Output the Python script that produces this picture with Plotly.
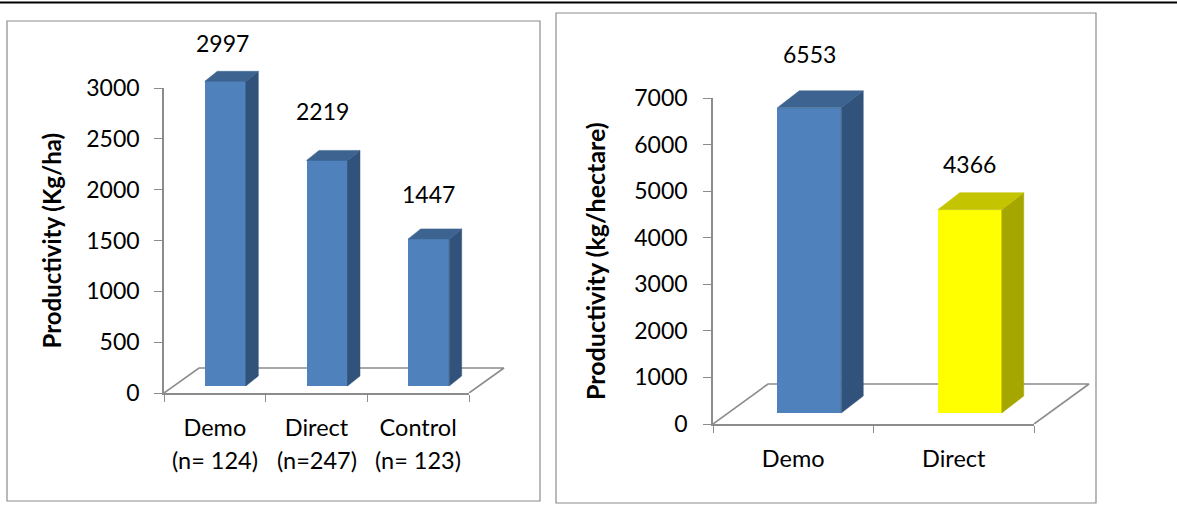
import plotly.graph_objects as go

W, H = 1177, 507
FONT = "Lato"
GREY = "#8C8C8C"

# ---- data ----
left_categories = ["Demo", "Direct", "Control"]
left_sub_labels = ["(n= 124)", "(n=247)", "(n= 123)"]
left_values = [2997, 2219, 1447]
left_y_ticks = [0, 500, 1000, 1500, 2000, 2500, 3000]
left_title = "Productivity (Kg/ha)"

right_categories = ["Demo", "Direct"]
right_values = [6553, 4366]
right_y_ticks = [0, 1000, 2000, 3000, 4000, 5000, 6000, 7000]
right_title = "Productivity (kg/hectare)"

BLUE = ("#4F81BD", "#3D6491", "#31527A")
YELLOW = ("#FFFF00", "#C4C400", "#A6A600")

fig = go.Figure()


def name(i):
    return ("x", "y") if i == 1 else (f"x{i}", f"y{i}")


def key(i):
    return ("xaxis", "yaxis") if i == 1 else (f"xaxis{i}", f"yaxis{i}")


def panel(first, cats, subs, vals, ticks, title, colors, box, lab_shift, sub_y):
    """Three overlaid axis pairs with one scale: the visible axes, a hidden pair for the
    floor (drawn first, so it lies behind), a hidden pair for the columns. The hidden
    pairs are larger so that the 3-D faces and the floor may run past the axis ends."""
    xa, ya = name(first)
    xf, yf = name(first + 1)
    xb, yb = name(first + 2)
    x0, x1, y0, y1 = box["x0"], box["x1"], box["y0"], box["y1"]
    k = len(cats)
    ymax = ticks[-1]
    ux = (x1 - x0) / k            # px per category
    uy = (y0 - y1) / ymax         # px per value unit
    fdx, fdy = box["floor"][0] / ux, box["floor"][1] / uy
    bdx, bdy = box["depth"][0] / ux, box["depth"][1] / uy
    base = box["base"] / uy
    shift = box["shift"] / ux
    bw = box["bw"] / ux
    pos = [i + 0.5 + shift for i in range(k)]
    ext_x, ext_y = box["floor"][0] + 5, 30

    # keeps the visible axis pair alive
    fig.add_trace(go.Scatter(x=[None], y=[None], mode="lines", hoverinfo="skip",
                             showlegend=False, xaxis=xa, yaxis=ya))

    # floor
    fig.add_trace(go.Scatter(
        x=[0, fdx, k + fdx, k], y=[0, fdy, fdy, 0], mode="lines",
        line=dict(color=GREY, width=1.6), hoverinfo="skip",
        showlegend=False, xaxis=xf, yaxis=yf))

    # front of each column, then side and top faces
    fig.add_trace(go.Bar(
        x=pos, y=vals, base=base, width=bw,
        marker=dict(color=[c[0] for c in colors], line=dict(width=0)),
        showlegend=False, xaxis=xb, yaxis=yb))
    for p, v, c in zip(pos, vals, colors):
        r = p + bw / 2
        l = p - bw / 2
        t = base + v
        fig.add_trace(go.Scatter(
            x=[r, r + bdx, r + bdx, r, r], y=[base, base + bdy, t + bdy, t, base],
            mode="lines", fill="toself", fillcolor=c[2], line=dict(color=c[2], width=0.5),
            hoverinfo="skip", showlegend=False, xaxis=xb, yaxis=yb))
        fig.add_trace(go.Scatter(
            x=[l, r, r + bdx, l + bdx, l], y=[t, t, t + bdy, t + bdy, t],
            mode="lines", fill="toself", fillcolor=c[1], line=dict(color=c[1], width=0.5),
            hoverinfo="skip", showlegend=False, xaxis=xb, yaxis=yb))

    # value labels
    for p, v, (sx, sy) in zip(pos, vals, lab_shift):
        fig.add_annotation(x=p, y=base + v, xref=xb, yref=yb, text=str(v), showarrow=False,
                           xshift=sx, yshift=sy, font=dict(family=FONT, size=box["fs"], color="black"))

    # second line of the category labels
    for i, s in enumerate(subs):
        fig.add_annotation(x=i + 0.5, y=1 - sub_y / H, xref=xa, yref="paper", yanchor="middle",
                           text=s, showarrow=False,
                           font=dict(family=FONT, size=box["cfs"], color="black"))

    # axis title
    fig.add_annotation(x=box["tx"] / W, y=1 - (y0 + y1) / 2 / H, xref="paper", yref="paper",
                       xanchor="center", yanchor="middle",
                       text=f"<b>{title}</b>", textangle=-90, showarrow=False,
                       font=dict(family=FONT, size=box["tfs"], color="black"))

    hidden_x = dict(domain=[x0 / W, (x1 + ext_x) / W], range=[0, k + ext_x / ux],
                    visible=False, automargin=False)
    hidden_y = dict(domain=[1 - y0 / H, 1 - (y1 - ext_y) / H], range=[0, ymax + ext_y / uy],
                    visible=False, automargin=False)
    xak, yak = key(first)
    xfk, yfk = key(first + 1)
    xbk, ybk = key(first + 2)
    fig.update_layout({
        xfk: dict(hidden_x, anchor=yf), yfk: dict(hidden_y, anchor=xf),
        xbk: dict(hidden_x, anchor=yb), ybk: dict(hidden_y, anchor=xb),
        xak: dict(domain=[x0 / W, x1 / W], range=[0, k], anchor=ya, automargin=False,
                  tickmode="array", tickvals=[i + 0.5 for i in range(k)], ticktext=cats,
                  ticks="", ticklen=0, showgrid=False, zeroline=False,
                  showline=True, linecolor=GREY, linewidth=1.6, ticklabelstandoff=box["std"],
                  minor=dict(tickmode="array", tickvals=list(range(k + 1)), ticks="outside",
                             ticklen=7, tickcolor=GREY, tickwidth=1.2, showgrid=False),
                  tickfont=dict(family=FONT, size=box["cfs"], color="black")),
        yak: dict(domain=[1 - y0 / H, 1 - y1 / H], range=[0, ymax], anchor=xa, automargin=False,
                  tickmode="array", tickvals=ticks, ticks="outside", ticklen=8,
                  tickcolor=GREY, tickwidth=1.2, showgrid=False, zeroline=False,
                  showline=True, linecolor=GREY, linewidth=1.6, ticklabelstandoff=box["ystd"],
                  tickfont=dict(family=FONT, size=box["fs"], color="black")),
    })


panel(1, left_categories, left_sub_labels, left_values, left_y_ticks, left_title,
      [BLUE, BLUE, BLUE],
      dict(x0=164, x1=469, y0=393, y1=88, floor=(35, 25), depth=(12.5, 10), base=7,
           shift=10.5, bw=41, fs=23, cfs=23.5, tfs=24, tx=51, std=13, ystd=10),
      [(-3, 38), (-5, 49), (0, 45)], 460)

panel(4, right_categories, [], right_values, right_y_ticks, right_title,
      [BLUE, YELLOW],
      dict(x0=713, x1=1034, y0=424, y1=98, floor=(55, 40), depth=(22, 17), base=11,
           shift=16, bw=64, fs=23, cfs=23.5, tfs=25, tx=595, std=13, ystd=11),
      [(0, 54), (0, 46)], 459)

# frames and top rule (pixel positions on the page)
for (xa, ya, xb, yb) in [(7, 21, 540, 501), (556, 13, 1096, 503)]:
    fig.add_shape(type="rect", xref="paper", yref="paper", layer="below",
                  x0=xa / W, x1=xb / W, y0=1 - ya / H, y1=1 - yb / H,
                  line=dict(color=GREY, width=1.2), fillcolor="white")
fig.add_shape(type="line", xref="paper", yref="paper", x0=0, x1=1, y0=1 - 2.5 / H, y1=1 - 2.5 / H,
              line=dict(color="black", width=2))

fig.update_layout(template="none", width=W, height=H, autosize=False,
                  margin=dict(l=0, r=0, t=0, b=0),
                  paper_bgcolor="white", plot_bgcolor="rgba(0,0,0,0)", bargap=0,
                  showlegend=False, font=dict(family=FONT))

fig.write_html("out.html", post_script="document.body.style.margin='0';",
               config={"displayModeBar": False})
